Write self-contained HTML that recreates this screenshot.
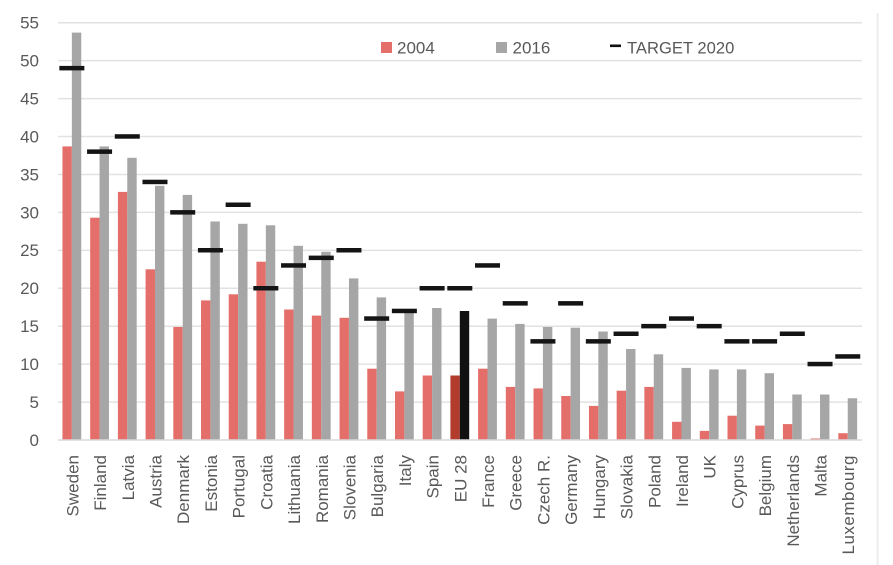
<!DOCTYPE html>
<html><head><meta charset="utf-8"><style>
html,body{margin:0;padding:0;background:#fff;}
svg{display:block;}
text{font-family:"Liberation Sans",sans-serif;fill:#595959;}
</style></head><body>
<svg width="893" height="565" viewBox="0 0 893 565" xmlns="http://www.w3.org/2000/svg">
<rect x="0" y="0" width="893" height="565" fill="#fff"/>
<line x1="877.7" y1="13" x2="877.7" y2="565" stroke="#ECECEC" stroke-width="2"/>
<g stroke="#E2E2E2" stroke-width="1.5">
<line x1="58" y1="402.07" x2="862" y2="402.07"/>
<line x1="58" y1="364.13" x2="862" y2="364.13"/>
<line x1="58" y1="326.2" x2="862" y2="326.2"/>
<line x1="58" y1="288.26" x2="862" y2="288.26"/>
<line x1="58" y1="250.33" x2="862" y2="250.33"/>
<line x1="58" y1="212.4" x2="862" y2="212.4"/>
<line x1="58" y1="174.46" x2="862" y2="174.46"/>
<line x1="58" y1="136.52" x2="862" y2="136.52"/>
<line x1="58" y1="98.59" x2="862" y2="98.59"/>
<line x1="58" y1="60.65" x2="862" y2="60.65"/>
<line x1="58" y1="22.72" x2="862" y2="22.72"/>
</g>
<g font-size="17" text-anchor="end">
<text x="39" y="446">0</text>
<text x="39" y="408">5</text>
<text x="39" y="370">10</text>
<text x="39" y="332">15</text>
<text x="39" y="294">20</text>
<text x="39" y="256">25</text>
<text x="39" y="218.5">30</text>
<text x="39" y="180.5">35</text>
<text x="39" y="142.5">40</text>
<text x="39" y="104.5">45</text>
<text x="39" y="66.5">50</text>
<text x="39" y="28.5">55</text>
</g>
<g fill="#E46F6A">
<rect x="62.46" y="146.4" width="9.4" height="293.6"/>
<rect x="90.17" y="217.7" width="9.4" height="222.3"/>
<rect x="117.88" y="191.9" width="9.4" height="248.1"/>
<rect x="145.59" y="269.3" width="9.4" height="170.7"/>
<rect x="173.3" y="327.0" width="9.4" height="113.0"/>
<rect x="201.01" y="300.4" width="9.4" height="139.6"/>
<rect x="228.72" y="294.3" width="9.4" height="145.7"/>
<rect x="256.43" y="261.7" width="9.4" height="178.3"/>
<rect x="284.14" y="309.5" width="9.4" height="130.5"/>
<rect x="311.85" y="315.6" width="9.4" height="124.4"/>
<rect x="339.56" y="317.8" width="9.4" height="122.2"/>
<rect x="367.27" y="368.7" width="9.4" height="71.3"/>
<rect x="394.98" y="391.4" width="9.4" height="48.6"/>
<rect x="422.69" y="375.5" width="9.4" height="64.5"/>
<rect x="478.11" y="368.7" width="9.4" height="71.3"/>
<rect x="505.82" y="386.9" width="9.4" height="53.1"/>
<rect x="533.53" y="388.4" width="9.4" height="51.6"/>
<rect x="561.24" y="396.0" width="9.4" height="44.0"/>
<rect x="588.95" y="405.9" width="9.4" height="34.1"/>
<rect x="616.66" y="390.7" width="9.4" height="49.3"/>
<rect x="644.37" y="386.9" width="9.4" height="53.1"/>
<rect x="672.08" y="421.8" width="9.4" height="18.2"/>
<rect x="699.79" y="430.9" width="9.4" height="9.1"/>
<rect x="727.5" y="415.7" width="9.4" height="24.3"/>
<rect x="755.21" y="425.6" width="9.4" height="14.4"/>
<rect x="782.92" y="424.1" width="9.4" height="15.9"/>
<rect x="810.63" y="438.5" width="9.4" height="1.5"/>
<rect x="838.34" y="433.2" width="9.4" height="6.8"/>
</g>
<rect x="450.4" y="375.5" width="9.4" height="64.5" fill="#B23C2C"/>
<g fill="#A6A6A6">
<rect x="71.86" y="32.6" width="9.4" height="407.4"/>
<rect x="99.57" y="146.4" width="9.4" height="293.6"/>
<rect x="127.28" y="157.8" width="9.4" height="282.2"/>
<rect x="154.99" y="185.8" width="9.4" height="254.2"/>
<rect x="182.7" y="194.9" width="9.4" height="245.1"/>
<rect x="210.41" y="221.5" width="9.4" height="218.5"/>
<rect x="238.12" y="223.8" width="9.4" height="216.2"/>
<rect x="265.83" y="225.3" width="9.4" height="214.7"/>
<rect x="293.54" y="245.8" width="9.4" height="194.2"/>
<rect x="321.25" y="251.8" width="9.4" height="188.2"/>
<rect x="348.96" y="278.4" width="9.4" height="161.6"/>
<rect x="376.67" y="297.4" width="9.4" height="142.6"/>
<rect x="404.38" y="311.8" width="9.4" height="128.2"/>
<rect x="432.09" y="308.0" width="9.4" height="132.0"/>
<rect x="487.51" y="318.6" width="9.4" height="121.4"/>
<rect x="515.22" y="323.9" width="9.4" height="116.1"/>
<rect x="542.93" y="327.0" width="9.4" height="113.0"/>
<rect x="570.64" y="327.7" width="9.4" height="112.3"/>
<rect x="598.35" y="331.5" width="9.4" height="108.5"/>
<rect x="626.06" y="349.0" width="9.4" height="91.0"/>
<rect x="653.77" y="354.3" width="9.4" height="85.7"/>
<rect x="681.48" y="367.9" width="9.4" height="72.1"/>
<rect x="709.19" y="369.4" width="9.4" height="70.6"/>
<rect x="736.9" y="369.4" width="9.4" height="70.6"/>
<rect x="764.61" y="373.2" width="9.4" height="66.8"/>
<rect x="792.32" y="394.5" width="9.4" height="45.5"/>
<rect x="820.03" y="394.5" width="9.4" height="45.5"/>
<rect x="847.74" y="398.3" width="9.4" height="41.7"/>
</g>
<rect x="459.8" y="311.0" width="9.4" height="129.0" fill="#111"/>
<line x1="58" y1="440" x2="862" y2="440" stroke="#D9D9D9" stroke-width="1.5"/>
<g fill="#141414">
<rect x="59.36" y="65.9" width="25" height="4.5"/>
<rect x="87.07" y="149.4" width="25" height="4.5"/>
<rect x="114.78" y="134.2" width="25" height="4.5"/>
<rect x="142.49" y="179.7" width="25" height="4.5"/>
<rect x="170.2" y="210.1" width="25" height="4.5"/>
<rect x="197.91" y="248.0" width="25" height="4.5"/>
<rect x="225.62" y="202.5" width="25" height="4.5"/>
<rect x="253.33" y="286.0" width="25" height="4.5"/>
<rect x="281.04" y="263.2" width="25" height="4.5"/>
<rect x="308.75" y="255.6" width="25" height="4.5"/>
<rect x="336.46" y="248.0" width="25" height="4.5"/>
<rect x="364.17" y="316.3" width="25" height="4.5"/>
<rect x="391.88" y="308.7" width="25" height="4.5"/>
<rect x="419.59" y="286.0" width="25" height="4.5"/>
<rect x="447.3" y="286.0" width="25" height="4.5"/>
<rect x="475.01" y="263.2" width="25" height="4.5"/>
<rect x="502.72" y="301.1" width="25" height="4.5"/>
<rect x="530.43" y="339.1" width="25" height="4.5"/>
<rect x="558.14" y="301.1" width="25" height="4.5"/>
<rect x="585.85" y="339.1" width="25" height="4.5"/>
<rect x="613.56" y="331.5" width="25" height="4.5"/>
<rect x="641.27" y="323.9" width="25" height="4.5"/>
<rect x="668.98" y="316.3" width="25" height="4.5"/>
<rect x="696.69" y="323.9" width="25" height="4.5"/>
<rect x="724.4" y="339.1" width="25" height="4.5"/>
<rect x="752.11" y="339.1" width="25" height="4.5"/>
<rect x="779.82" y="331.5" width="25" height="4.5"/>
<rect x="807.53" y="361.8" width="25" height="4.5"/>
<rect x="835.24" y="354.2" width="25" height="4.5"/>
</g>
<g font-size="17" text-anchor="end">
<text transform="translate(78.36,455) rotate(-90)">Sweden</text>
<text transform="translate(106.07,455) rotate(-90)">Finland</text>
<text transform="translate(133.78,455) rotate(-90)">Latvia</text>
<text transform="translate(161.49,455) rotate(-90)">Austria</text>
<text transform="translate(189.2,455) rotate(-90)">Denmark</text>
<text transform="translate(216.91,455) rotate(-90)">Estonia</text>
<text transform="translate(244.62,455) rotate(-90)">Portugal</text>
<text transform="translate(272.33,455) rotate(-90)">Croatia</text>
<text transform="translate(300.04,455) rotate(-90)">Lithuania</text>
<text transform="translate(327.75,455) rotate(-90)">Romania</text>
<text transform="translate(355.46,455) rotate(-90)">Slovenia</text>
<text transform="translate(383.17,455) rotate(-90)">Bulgaria</text>
<text transform="translate(410.88,455) rotate(-90)">Italy</text>
<text transform="translate(438.59,455) rotate(-90)">Spain</text>
<text transform="translate(466.3,455) rotate(-90)">EU 28</text>
<text transform="translate(494.01,455) rotate(-90)">France</text>
<text transform="translate(521.72,455) rotate(-90)">Greece</text>
<text transform="translate(549.43,455) rotate(-90)">Czech R.</text>
<text transform="translate(577.14,455) rotate(-90)">Germany</text>
<text transform="translate(604.85,455) rotate(-90)">Hungary</text>
<text transform="translate(632.56,455) rotate(-90)">Slovakia</text>
<text transform="translate(660.27,455) rotate(-90)">Poland</text>
<text transform="translate(687.98,455) rotate(-90)">Ireland</text>
<text transform="translate(715.69,455) rotate(-90)">UK</text>
<text transform="translate(743.4,455) rotate(-90)">Cyprus</text>
<text transform="translate(771.11,455) rotate(-90)">Belgium</text>
<text transform="translate(798.82,455) rotate(-90)">Netherlands</text>
<text transform="translate(826.53,455) rotate(-90)">Malta</text>
<text transform="translate(854.24,455) rotate(-90)" letter-spacing="0.5">Luxembourg</text>
</g>
<rect x="381" y="42" width="11" height="11" fill="#E46F6A"/>
<text x="397" y="53.3" font-size="17">2004</text>
<rect x="496" y="42" width="11" height="11" fill="#A6A6A6"/>
<text x="512.5" y="53.3" font-size="17">2016</text>
<rect x="610" y="44.5" width="11" height="2.6" fill="#111"/>
<text x="627" y="53.3" font-size="16.6">TARGET 2020</text>
</svg>
</body></html>
